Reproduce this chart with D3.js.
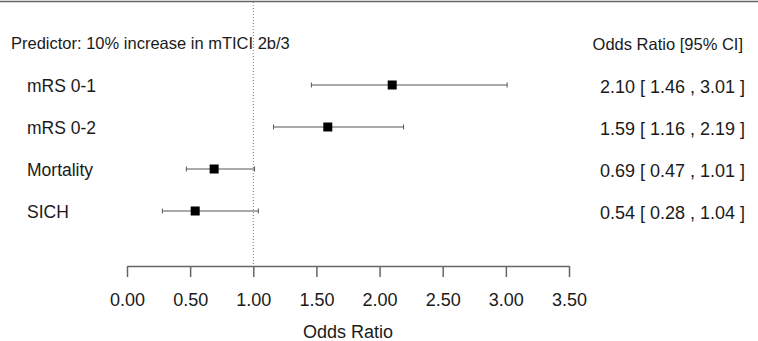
<!DOCTYPE html>
<html>
<head>
<meta charset="utf-8">
<script src="https://cdn.jsdelivr.net/npm/d3@7"></script>
<style>
body { margin: 0; background: #fff; }
text { font-family: "Liberation Sans", Arial, sans-serif; fill: #1a1a1a; }
</style>
</head>
<body>
<div id="graph"></div>
<script>
var svgWidth = 758;
var svgHeight = 341;

var outcomes = ["mRS 0-1", "mRS 0-2", "Mortality", "SICH"];
var odds = [2.10, 1.59, 0.69, 0.54];
var lower = [1.46, 1.16, 0.47, 0.28];
var upper = [3.01, 2.19, 1.01, 1.04];
var tickValues = [0, 0.5, 1, 1.5, 2, 2.5, 3, 3.5];

var rows = outcomes.map((o, i) => ({ name: o, or: odds[i], lo: lower[i], hi: upper[i] }));

var svg = d3.select("#graph")
	.append("svg")
	.attr("width", svgWidth)
	.attr("height", svgHeight);

var x = d3.scaleLinear().domain([0, 3.5]).range([127, 569]);
var y = d3.scaleBand().domain(outcomes).range([64, 232]);

// top border
svg.append("line")
	.attr("x1", 0).attr("x2", svgWidth)
	.attr("y1", 1.5).attr("y2", 1.5)
	.attr("stroke", "#666").attr("stroke-width", 1.5);

// reference line at OR = 1
svg.append("line")
	.attr("x1", x(1)).attr("x2", x(1))
	.attr("y1", 2).attr("y2", 266)
	.attr("stroke", "#777")
	.attr("stroke-dasharray", "1,2");

// headers
svg.append("text")
	.attr("x", 11).attr("y", 49)
	.style("font-size", "16.5px")
	.text("Predictor: 10% increase in mTICI 2b/3");
svg.append("text")
	.attr("x", 743).attr("y", 50)
	.attr("text-anchor", "end")
	.style("font-size", "16.5px")
	.text("Odds Ratio [95% CI]");

var row = svg.selectAll("g.row")
	.data(rows)
	.enter()
	.append("g")
	.attr("class", "row")
	.attr("transform", d => "translate(0," + (y(d.name) + y.bandwidth() / 2) + ")");

row.append("text")
	.attr("x", 27).attr("y", 7)
	.style("font-size", "17.5px")
	.text(d => d.name);

row.append("line")
	.attr("x1", d => x(d.lo)).attr("x2", d => x(d.hi))
	.attr("stroke", "#555").attr("stroke-width", 1);

row.append("line")
	.attr("x1", d => x(d.lo)).attr("x2", d => x(d.lo))
	.attr("y1", -2.5).attr("y2", 2.5)
	.attr("stroke", "#555");
row.append("line")
	.attr("x1", d => x(d.hi)).attr("x2", d => x(d.hi))
	.attr("y1", -2.5).attr("y2", 2.5)
	.attr("stroke", "#555");

row.append("rect")
	.attr("x", d => x(d.or) - 4.5).attr("y", -4.5)
	.attr("width", 9).attr("height", 9)
	.attr("fill", "#000");

row.append("text")
	.attr("x", 745).attr("y", 7.5)
	.attr("text-anchor", "end")
	.style("font-size", "18px")
	.text(d => d.or.toFixed(2) + " [ " + d.lo.toFixed(2) + " , " + d.hi.toFixed(2) + " ]");

// x axis
var axis = svg.append("g")
	.attr("transform", "translate(0,266)")
	.call(d3.axisBottom(x).tickValues(tickValues).tickFormat(d3.format(".2f")).tickSize(11).tickSizeOuter(0).tickPadding(16));
axis.select(".domain").attr("stroke", "#666").attr("stroke-width", 1.5);
axis.selectAll(".tick line").attr("stroke", "#666").attr("stroke-width", 1.5);
axis.selectAll(".tick text")
	.style("font-size", "18px")
	.style("font-family", "'Liberation Sans', Arial, sans-serif")
	.attr("fill", "#1a1a1a");

svg.append("text")
	.attr("x", x(1.75)).attr("y", 338)
	.attr("text-anchor", "middle")
	.style("font-size", "18px")
	.text("Odds Ratio");
</script>
</body>
</html>
